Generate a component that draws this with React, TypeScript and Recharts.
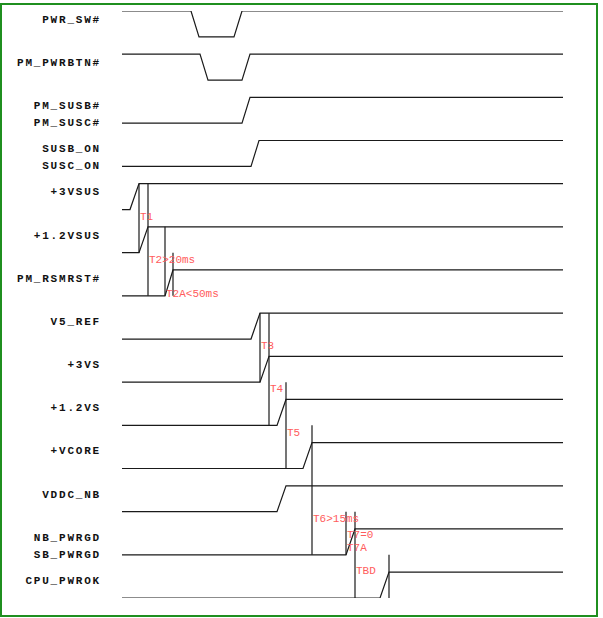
import { LineChart, Line, XAxis, YAxis, ReferenceLine, ReferenceDot } from "recharts";

// signal names (two names share one waveform on some rows)
const signalLabels: string[][] = [
  ["PWR_SW#"],
  ["PM_PWRBTN#"],
  ["PM_SUSB#", "PM_SUSC#"],
  ["SUSB_ON", "SUSC_ON"],
  ["+3VSUS"],
  ["+1.2VSUS"],
  ["PM_RSMRST#"],
  ["V5_REF"],
  ["+3VS"],
  ["+1.2VS"],
  ["+VCORE"],
  ["VDDC_NB"],
  ["NB_PWRGD", "SB_PWRGD"],
  ["CPU_PWROK"],
];

// level at time 0 (1 = high, 0 = low)
const startLevels = [1, 1, 0, 0, 0, 0, 0, 0, 0, 0, 0, 0, 0, 0];

// each transition as [start, end] time
const transitions: number[][][] = [
  [[69, 77], [112, 120]],
  [[78, 86], [120, 128]],
  [[120, 128]],
  [[129, 137]],
  [[8, 17]],
  [[17, 26]],
  [[43, 51]],
  [[129, 138]],
  [[138, 147]],
  [[155, 164]],
  [[181, 190]],
  [[155, 164]],
  [[224, 233]],
  [[258, 267]],
];

const timeEnd = 441;
const lowOffset = 0.6; // low level sits 0.6 row below high level

// timing marker lines (time, top row, bottom row)
const markerTimes = [17, 26, 43, 51, 138, 147, 164, 190, 224, 233, 267];
const markerTop = [4, 4, 5, 5.6, 7, 7, 8.6, 9.6, 11.6, 11.6, 12.6];
const markerBottom = [5.6, 6.6, 6.6, 6.6, 8.6, 9.6, 10.6, 12.6, 12.6, 13.6, 13.6];

// timing annotations
const noteTexts = ["T1", "T2>20ms", "T2A<50ms", "T3", "T4", "T5", "T6>15ms", "T7=0", "T7A", "TBD"];
const noteTimes = [17, 26, 43, 138, 147, 164, 190, 224, 224, 233];
const noteRows = [4.75, 5.75, 6.53, 7.74, 8.74, 9.75, 11.75, 12.12, 12.42, 12.95];

const levelY = (row: number, level: number) => row + (level ? 0 : lowOffset);

const waves = transitions.map((edges, row) => {
  let level = startLevels[row];
  const pts = [{ t: 0, y: levelY(row, level) }];
  edges.forEach(([a, b]) => {
    pts.push({ t: a, y: levelY(row, level) });
    level = 1 - level;
    pts.push({ t: b, y: levelY(row, level) });
  });
  pts.push({ t: timeEnd, y: levelY(row, level) });
  return pts;
});

const labelTicks: { v: number; text: string }[] = [];
signalLabels.forEach((names, row) => {
  names.forEach((n, i) => labelTicks.push({ v: row + (i === 0 ? 0.185 : 0.58), text: n }));
});

const RowLabel = (props: any) => {
  const { x, y, index } = props;
  return (
    <text
      x={x}
      y={y}
      dy="0.35em"
      textAnchor="end"
      fontFamily="'Liberation Mono', monospace"
      fontWeight="bold"
      fontSize={11}
      letterSpacing={1.8}
      fill="#111"
    >
      {labelTicks[index] ? labelTicks[index].text : ""}
    </text>
  );
};

export default function App() {
  return (
    <div style={{ position: "absolute", left: 0, top: 0, width: 603, height: 618, background: "#fff" }}>
      <div
        style={{
          position: "absolute",
          left: 0,
          top: 3,
          width: 598,
          height: 614,
          boxSizing: "border-box",
          border: "2px solid #1f8f1f",
        }}
      />
      <div style={{ position: "absolute", left: 0, top: 0 }}>
        <LineChart width={603} height={618} margin={{ top: 11, right: 40, bottom: 20, left: 0 }}>
          <XAxis type="number" dataKey="t" domain={[0, timeEnd]} hide height={0} allowDataOverflow />
          <YAxis
            type="number"
            domain={[0, 13.6]}
            reversed
            width={122}
            ticks={labelTicks.map((d) => d.v)}
            interval={0}
            tick={<RowLabel />}
            axisLine={false}
            tickLine={false}
            tickMargin={15}
            allowDataOverflow
          />
          {waves.map((w, i) => (
            <Line
              key={i}
              data={w}
              dataKey="y"
              type="linear"
              stroke="#1a1a1a"
              strokeWidth={1.2}
              dot={false}
              activeDot={false}
              isAnimationActive={false}
            />
          ))}
          {markerTimes.map((t, i) => (
            <ReferenceLine
              key={"m" + i}
              segment={[
                { x: t, y: markerTop[i] },
                { x: t, y: markerBottom[i] },
              ]}
              stroke="#1a1a1a"
              strokeWidth={1.2}
            />
          ))}
          {noteTexts.map((s, i) => (
            <ReferenceDot
              key={"n" + i}
              x={noteTimes[i]}
              y={noteRows[i]}
              r={0}
              fill="none"
              stroke="none"
              label={{
                value: s,
                position: "right",
                offset: 1,
                fill: "#ff5c5c",
                fontSize: 11,
                fontFamily: "'Liberation Mono', monospace",
              }}
            />
          ))}
        </LineChart>
      </div>
    </div>
  );
}
